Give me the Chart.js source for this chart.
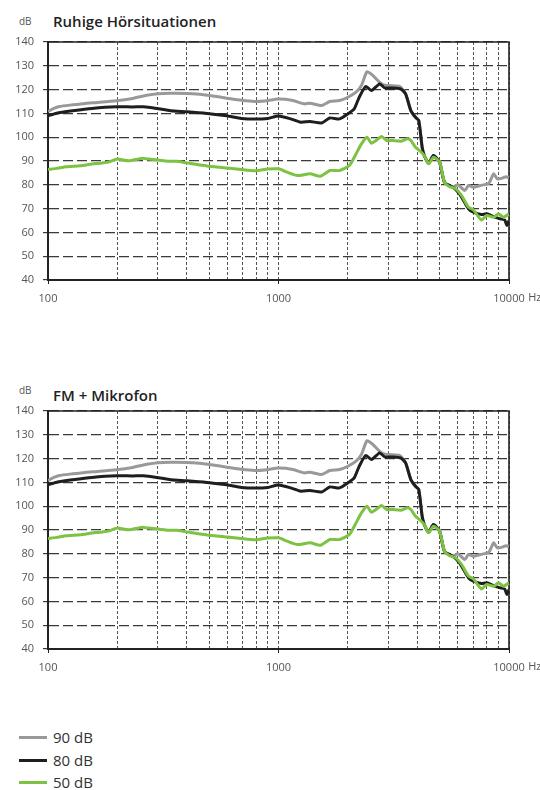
<!DOCTYPE html>
<html>
<head>
<meta charset="utf-8">
<script src="https://cdn.jsdelivr.net/npm/chart.js@4.4.1/dist/chart.umd.min.js"></script>
<style>
  html, body { margin: 0; padding: 0; background: #fff; }
  body { width: 540px; height: 790px; position: relative; overflow: hidden; font-family: "Open Sans", sans-serif; }
  .title { position: absolute; left: 53px; font-size: 15px; line-height: 20px; font-weight: 600; color: #222; white-space: nowrap; }
  .unit { position: absolute; left: 19px; font-size: 10px; line-height: 12px; color: #555; }
  .cv { position: absolute; left: 0; }
  .leg { position: absolute; left: 0; width: 200px; height: 22px; }
  .leg .ln { position: absolute; left: 19px; top: 10px; width: 28px; height: 3px; }
  .leg .tx { position: absolute; left: 53px; top: 0; font-size: 15px; line-height: 22px; color: #333; }
</style>
</head>
<body>
<div class="unit" style="top:15px">dB</div>
<div class="title" style="top:11px">Ruhige Hörsituationen</div>
<canvas id="c1" class="cv" style="top:0px" width="540" height="310"></canvas>

<div class="unit" style="top:384px">dB</div>
<div class="title" style="top:385px">FM + Mikrofon</div>
<canvas id="c2" class="cv" style="top:369px" width="540" height="310"></canvas>

<div class="leg" style="top:726px"><div class="ln" style="background:#999999"></div><div class="tx">90 dB</div></div>
<div class="leg" style="top:749px"><div class="ln" style="background:#1e1e1e"></div><div class="tx">80 dB</div></div>
<div class="leg" style="top:771px"><div class="ln" style="background:#7dc242"></div><div class="tx">50 dB</div></div>

<script>
// ---- data (frequency in Hz, level in dB) ----
const xTickValues = [100,200,300,400,500,600,700,800,900,1000,2000,3000,4000,5000,6000,7000,8000,9000,10000];
const xLabelValues = [100, 1000, 10000];
const yMin = 40, yMax = 140, yStep = 10;

const freq90 = [100,106,112,128,145,164,198,233,268,300,341,400,455,520,597,690,790,870,1000,1155,1290,1370,1540,1670,1840,2000,2170,2290,2420,2570,2750,2850,3030,3360,3560,3750,3930,4060,4200,4290,4480,4700,5000,5250,5700,6000,6430,6670,7000,7500,8170,8580,8900,9400,9700,10000];
const level90 = [110.8,112.1,112.9,113.6,114.2,114.6,115.3,116.3,117.6,118.3,118.5,118.4,118,117.3,116.4,115.5,115,115.2,116,115.4,114,114.3,113.3,115,115.4,116.8,118.9,121.7,127.5,125.9,123,122.1,121.7,121.3,118.2,111.2,108.4,107,95.8,92.3,89,92.3,89.5,81,79,80,77.6,79.7,79,79.7,80.6,84.6,82.5,82.9,83.4,82.9];

const freq80 = [100,109,128,155,198,233,260,296,341,400,490,597,690,790,900,1000,1130,1250,1370,1540,1670,1840,2000,2130,2240,2390,2530,2750,2890,3130,3390,3560,3750,3930,4060,4200,4290,4480,4700,5000,5250,5700,6100,6670,7000,7590,8000,8580,9170,9580,9800,10000];
const level80 = [109,110.1,111.1,112.1,112.8,112.7,112.8,112.1,111.1,110.7,110,109,107.9,107.6,107.9,108.9,107.7,106.3,106.6,106,108.1,107.7,109.8,111.9,116.8,121.3,119.6,122.4,120.7,120.7,120.3,118.2,111.2,108.4,107,95.8,92.3,89,92.3,89.5,81,79,76.2,69.9,68.5,67.5,67.8,66.6,65.7,65.2,62.9,65];

const freq50 = [100,109,120,138,155,172,185,200,224,255,273,300,333,363,430,490,597,690,790,900,1000,1090,1210,1370,1520,1670,1840,2030,2170,2290,2420,2530,2650,2800,2950,3130,3390,3630,3750,3930,4120,4290,4480,4700,5000,5250,5500,5880,6230,6670,7000,7590,8000,8580,9000,9470,10000];
const level50 = [86.4,86.9,87.6,88,88.7,89.2,89.7,90.8,90.1,91.1,90.8,90.4,89.9,89.9,88.7,87.9,87.1,86.4,85.9,86.6,86.7,85.3,83.9,84.6,83.6,86,86,88.1,93,97.2,100,97.5,98.6,100.3,98.6,98.6,98.3,99.3,98.6,95.8,94.1,92.3,88.8,91.6,89.5,81,79.3,78.3,75.5,70.6,69.5,65.2,67.1,66.4,67.8,66.4,67.8];

const seriesNames = ['90 dB', '80 dB', '50 dB'];
const seriesColors = ['#999999', '#1e1e1e', '#7dc242'];

function pts(f, v) { return f.map((x, i) => ({ x: x, y: v[i] })); }

Chart.defaults.font.family = '"Open Sans", sans-serif';
Chart.defaults.font.size = 11;
Chart.defaults.color = '#555';

const framePlugin = {
  id: 'frame',
  beforeDatasetsDraw(chart) {
    const { ctx, chartArea: a } = chart;
    ctx.save();
    ctx.strokeStyle = '#222';
    ctx.lineWidth = 1.6;
    ctx.beginPath();
    ctx.moveTo(a.left, a.top);
    ctx.lineTo(a.right, a.top);
    ctx.lineTo(a.right, a.bottom);
    ctx.stroke();
    ctx.restore();
  },
  afterDraw(chart) {
    const { ctx } = chart;
    const xs = chart.scales.x;
    const px = xs.getPixelForValue(10000);
    ctx.save();
    ctx.font = '11px "Open Sans", sans-serif';
    ctx.fillStyle = '#555';
    ctx.textBaseline = 'top';
    ctx.textAlign = 'left';
    const w = ctx.measureText('10000').width;
    ctx.fillText('Hz', px + w / 2 + 3.5, xs.top + 4 + 8);
    ctx.restore();
  }
};

function makeChart(id) {
  const datasets = [
    { label: seriesNames[0], data: pts(freq90, level90), borderColor: seriesColors[0], order: 3 },
    { label: seriesNames[1], data: pts(freq80, level80), borderColor: seriesColors[1], order: 2 },
    { label: seriesNames[2], data: pts(freq50, level50), borderColor: seriesColors[2], order: 1 }
  ].map(d => Object.assign(d, { borderWidth: 3, pointRadius: 0, tension: 0.2, fill: false }));

  return new Chart(document.getElementById(id), {
    type: 'line',
    data: { datasets },
    plugins: [framePlugin],
    options: {
      responsive: false,
      animation: false,
      devicePixelRatio: 1,
      layout: { padding: { left: 0, right: 31, top: 42, bottom: 0 } },
      plugins: { legend: { display: false }, tooltip: { enabled: false }, title: { display: false } },
      scales: {
        x: {
          type: 'logarithmic',
          min: 100, max: 10000,
          afterBuildTicks(scale) { scale.ticks = xTickValues.map(v => ({ value: v })); },
          afterFit(scale) { scale.height = 30; },
          ticks: {
            autoSkip: false, maxRotation: 0, minRotation: 0, padding: 8,
            color: '#555', font: { size: 11 },
            callback: (v) => xLabelValues.includes(v) ? String(v) : ''
          },
          grid: {
            color: '#555', lineWidth: 1, tickLength: 4,
            tickColor: (c) => (c.tick && xLabelValues.includes(c.tick.value)) ? '#222' : 'rgba(0,0,0,0)'
          },
          border: { display: true, color: '#222', width: 2, dash: [3, 2] }
        },
        y: {
          type: 'linear',
          min: yMin, max: yMax,
          afterFit(scale) { scale.width = 48; },
          ticks: { stepSize: yStep, padding: 9, color: '#555', font: { size: 11 } },
          grid: { color: '#3a3a3a', lineWidth: 1.2, tickLength: 5, tickColor: '#3a3a3a' },
          border: { display: true, color: '#222', width: 2, dash: [10, 4] }
        }
      }
    }
  });
}

makeChart('c1');
makeChart('c2');
</script>
</body>
</html>
